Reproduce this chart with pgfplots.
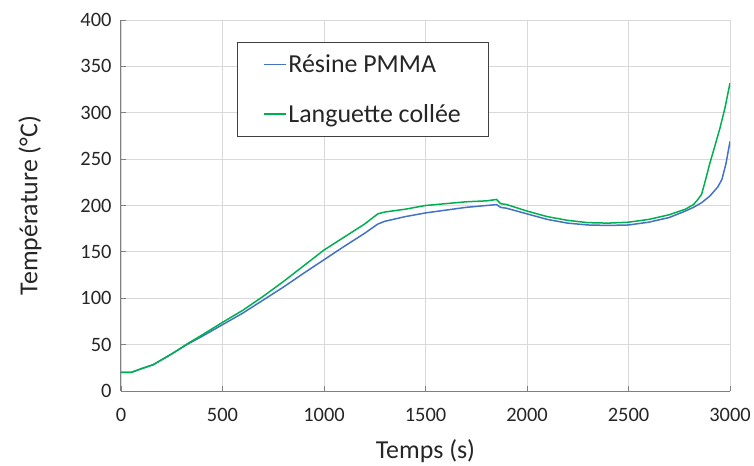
\documentclass[border=0pt]{standalone}
\usepackage{pgfplots}
\pgfplotsset{compat=1.18}
\usepackage{fontspec}
\setmainfont{Carlito}
\usetikzlibrary{calc}
\definecolor{pblue}{HTML}{4472C4}
\definecolor{pgreen}{HTML}{00B050}
\definecolor{axgray}{HTML}{808080}
\definecolor{gridgray}{HTML}{D9D9D9}
\definecolor{txt}{HTML}{262626}
\begin{document}
\begin{tikzpicture}
\begin{axis}[name=ax, scale only axis, width=609bp, height=371bp,
  xmin=0, xmax=3000, ymin=0, ymax=400,
  xtick={0,500,...,3000}, ytick={0,50,...,400},
  axis x line=bottom, axis y line=left,
  axis line style={draw=axgray, line width=1bp, -},
  tick align=inside, major tick length=5bp,
  tick style={draw=axgray, line width=0.8bp},
  grid=major, grid style={draw=gridgray, line width=0.8bp},
  ticklabel style={font=\fontsize{20.5}{24}\selectfont, text=txt},
  /pgf/number format/assume math mode=true,
  /pgf/number format/1000 sep={},
  xticklabel style={yshift=-14bp},
  yticklabel style={xshift=-6bp},
  xlabel={Temps (s)}, ylabel={Température (°C)},
  label style={font=\fontsize{26}{31}\selectfont, text=txt},
  xlabel style={at={(axis description cs:0.5,0)}, anchor=center, yshift=-60bp},
  ylabel style={at={(axis description cs:-0.1494,0.5)}, anchor=center},
  legend cell align=left,
  legend image code/.code={\draw[#1, line width=1.5bp] (0bp,0bp) -- (22bp,0bp);},
  legend style={at={(axis description cs:0.1905,0.9407)}, anchor=north west,
    draw=black!75, line width=0.8bp, inner xsep=26bp, inner ysep=11bp,
    font=\fontsize{26}{31}\selectfont, text=txt, row sep=27bp,
    nodes={inner sep=1.5bp}},
]
\addplot[pblue, line width=1.5bp] coordinates {
(0,20) (50,20) (100,24) (160,28.5) (250,40) (324,50) (400,59) (500,71.5)
(600,84) (700,98) (800,112) (900,127) (1000,141.5) (1100,156) (1200,170)
(1265,180) (1300,183) (1400,188) (1500,192) (1600,195) (1700,198) (1800,200)
(1850,201) (1870,198) (1900,197) (2000,191) (2100,185) (2200,181) (2300,179)
(2400,178.5) (2500,179) (2600,182) (2700,187) (2780,194) (2820,198) (2860,203)
(2900,210) (2940,220) (2960,228) (2980,245) (3000,269)
};
\addlegendentry{Résine PMMA}
\addplot[pgreen, line width=1.5bp] coordinates {
(0,20) (50,20) (100,24) (160,28.5) (250,40) (324,50.5) (400,60.5) (500,74)
(600,87) (700,102) (800,118) (900,135) (1000,152) (1100,166) (1200,180)
(1265,191) (1300,193) (1400,196) (1500,200) (1600,202) (1700,204) (1800,205)
(1850,206.5) (1870,202) (1900,201) (2000,194) (2100,188) (2200,184)
(2300,181.5) (2400,181) (2500,182) (2600,185) (2700,190) (2780,196) (2820,201)
(2840,206) (2860,212) (2880,228) (2900,245) (2920,260) (2950,283) (2975,305)
(3000,332)
};
\addlegendentry{Languette collée}
\end{axis}
\pgfresetboundingbox
\path ($(ax.south west)+(-121bp,-75bp)$) rectangle ($(ax.north east)+(24bp,20bp)$);
\end{tikzpicture}
\end{document}
